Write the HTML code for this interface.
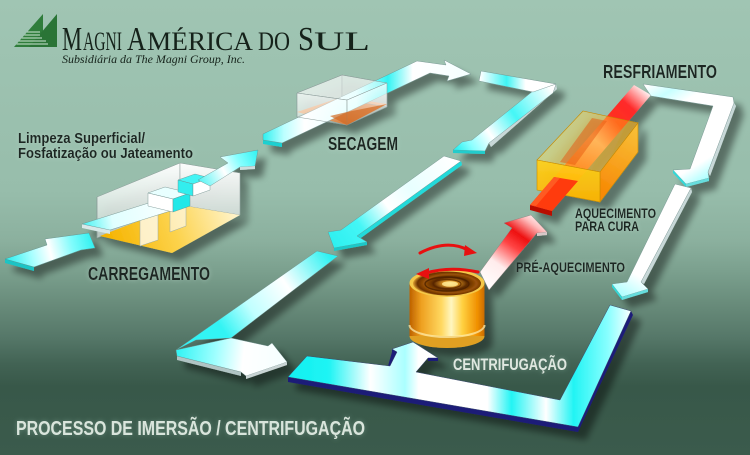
<!DOCTYPE html>
<html><head><meta charset="utf-8"><style>
html,body{margin:0;padding:0;width:750px;height:455px;overflow:hidden;background:#3a5a4b}
svg{display:block}
.lb{font-family:"Liberation Sans",Arial,sans-serif;font-weight:bold;fill:#1b2620}
</style></head><body>
<svg width="750" height="455" viewBox="0 0 750 455" xmlns="http://www.w3.org/2000/svg">
<defs>
 <linearGradient id="bg" x1="0" y1="0" x2="0" y2="455" gradientUnits="userSpaceOnUse">
  <stop offset="0" stop-color="#a0c5b3"/>
  <stop offset="0.42" stop-color="#97bdab"/>
  <stop offset="0.53" stop-color="#8bb09e"/>
  <stop offset="0.6" stop-color="#7a9f8d"/>
  <stop offset="0.67" stop-color="#688b7a"/>
  <stop offset="0.74" stop-color="#567869"/>
  <stop offset="0.8" stop-color="#426354"/>
  <stop offset="0.85" stop-color="#385849"/>
  <stop offset="1" stop-color="#3b5b4c"/>
 </linearGradient>
 <filter id="sh" x="-10%" y="-10%" width="130%" height="130%">
  <feGaussianBlur in="SourceAlpha" stdDeviation="3.5"/>
  <feOffset dx="8" dy="8" result="o"/>
  <feComponentTransfer in="o" result="s"><feFuncA type="linear" slope="0.42"/></feComponentTransfer>
  <feMerge><feMergeNode in="s"/><feMergeNode in="SourceGraphic"/></feMerge>
 </filter>
 <filter id="glowL" x="-10%" y="-60%" width="120%" height="220%">
  <feGaussianBlur in="SourceAlpha" stdDeviation="2.5" result="b"/>
  <feFlood flood-color="#6f9383" flood-opacity="0.8"/>
  <feComposite in2="b" operator="in" result="g"/>
  <feMerge><feMergeNode in="g"/><feMergeNode in="SourceGraphic"/></feMerge>
 </filter>
 <filter id="glowD" x="-10%" y="-60%" width="120%" height="220%">
  <feGaussianBlur in="SourceAlpha" stdDeviation="2" result="b"/>
  <feFlood flood-color="#c4ddd1" flood-opacity="0.5"/>
  <feComposite in2="b" operator="in" result="g"/>
  <feMerge><feMergeNode in="g"/><feMergeNode in="SourceGraphic"/></feMerge>
 </filter>
 <linearGradient id="entryG" x1="5" y1="262" x2="95" y2="240" gradientUnits="userSpaceOnUse">
  <stop offset="0" stop-color="#22eeee"/><stop offset="0.3" stop-color="#a8ffff"/><stop offset="0.5" stop-color="#ffffff"/><stop offset="0.75" stop-color="#7ffcfc"/><stop offset="1" stop-color="#2af0f0"/>
 </linearGradient>
 <linearGradient id="bar1G" x1="82" y1="226" x2="183" y2="205" gradientUnits="userSpaceOnUse">
  <stop offset="0" stop-color="#40f4f4"/><stop offset="0.3" stop-color="#e0ffff"/><stop offset="1" stop-color="#ffffff"/>
 </linearGradient>
 <linearGradient id="outG" x1="195" y1="185" x2="258" y2="152" gradientUnits="userSpaceOnUse">
  <stop offset="0" stop-color="#33f2f2"/><stop offset="0.45" stop-color="#ffffff"/><stop offset="0.7" stop-color="#88ffff"/><stop offset="1" stop-color="#33f2f2"/>
 </linearGradient>
 <linearGradient id="floorG" x1="110" y1="245" x2="230" y2="200" gradientUnits="userSpaceOnUse">
  <stop offset="0" stop-color="#f6b400"/><stop offset="0.5" stop-color="#fcd24a"/><stop offset="1" stop-color="#fff3c8"/>
 </linearGradient>
 <linearGradient id="wallG" x1="0" y1="165" x2="0" y2="240" gradientUnits="userSpaceOnUse">
  <stop offset="0" stop-color="#ffffff" stop-opacity="0.95"/><stop offset="1" stop-color="#ffffff" stop-opacity="0.35"/>
 </linearGradient>
 <linearGradient id="secG" x1="263" y1="0" x2="471" y2="0" gradientUnits="userSpaceOnUse">
  <stop offset="0" stop-color="#2ef0f0"/><stop offset="0.1" stop-color="#bbffff"/><stop offset="0.2" stop-color="#ffffff"/><stop offset="0.45" stop-color="#d8ffff"/><stop offset="0.6" stop-color="#33f4f4"/><stop offset="0.72" stop-color="#ffffff"/><stop offset="1" stop-color="#f4ffff"/>
 </linearGradient>
 <linearGradient id="orG" x1="300" y1="112" x2="387" y2="118" gradientUnits="userSpaceOnUse">
  <stop offset="0" stop-color="#e08a40"/><stop offset="0.5" stop-color="#d2691e"/><stop offset="1" stop-color="#e49a60"/>
 </linearGradient>
 <linearGradient id="boxW" x1="0" y1="80" x2="0" y2="125" gradientUnits="userSpaceOnUse">
  <stop offset="0" stop-color="#ffffff" stop-opacity="0.85"/><stop offset="1" stop-color="#ffffff" stop-opacity="0.15"/>
 </linearGradient>
 <linearGradient id="b1G" x1="480" y1="0" x2="556" y2="0" gradientUnits="userSpaceOnUse">
  <stop offset="0" stop-color="#ffffff"/><stop offset="0.35" stop-color="#3ff4f4"/><stop offset="0.6" stop-color="#ffffff"/><stop offset="1" stop-color="#ffffff"/>
 </linearGradient>
 <linearGradient id="b2G" x1="550" y1="88" x2="458" y2="150" gradientUnits="userSpaceOnUse">
  <stop offset="0" stop-color="#ffffff"/><stop offset="0.4" stop-color="#44f6f6"/><stop offset="0.68" stop-color="#ffffff"/><stop offset="0.88" stop-color="#88ffff"/><stop offset="1" stop-color="#33f2f2"/>
 </linearGradient>
 <linearGradient id="diagG" x1="452" y1="158" x2="335" y2="246" gradientUnits="userSpaceOnUse">
  <stop offset="0" stop-color="#ffffff"/><stop offset="0.35" stop-color="#e8ffff"/><stop offset="0.55" stop-color="#ffffff"/><stop offset="0.78" stop-color="#44f6f6"/><stop offset="1" stop-color="#2ef0f0"/>
 </linearGradient>
 <linearGradient id="L1G" x1="327" y1="253" x2="185" y2="350" gradientUnits="userSpaceOnUse">
  <stop offset="0" stop-color="#2ff2f2"/><stop offset="0.3" stop-color="#ffffff"/><stop offset="0.55" stop-color="#c0ffff"/><stop offset="0.75" stop-color="#33f4f4"/><stop offset="1" stop-color="#33f4f4"/>
 </linearGradient>
 <linearGradient id="L2G" x1="177" y1="353" x2="287" y2="365" gradientUnits="userSpaceOnUse">
  <stop offset="0" stop-color="#33f4f4"/><stop offset="0.35" stop-color="#a0ffff"/><stop offset="0.6" stop-color="#ffffff"/><stop offset="1" stop-color="#f4ffff"/>
 </linearGradient>
 <linearGradient id="uG" x1="288" y1="0" x2="632" y2="0" gradientUnits="userSpaceOnUse">
  <stop offset="0" stop-color="#10f0f0"/><stop offset="0.12" stop-color="#20f4f4"/><stop offset="0.24" stop-color="#ffffff"/><stop offset="0.34" stop-color="#aaffff"/><stop offset="0.38" stop-color="#ffffff"/><stop offset="0.58" stop-color="#ffffff"/><stop offset="0.65" stop-color="#22f4f4"/><stop offset="0.75" stop-color="#ffffff"/><stop offset="0.83" stop-color="#22f4f4"/><stop offset="0.93" stop-color="#88ffff"/><stop offset="1" stop-color="#ffffff"/>
 </linearGradient>
 <linearGradient id="preG" x1="488" y1="290" x2="540" y2="216" gradientUnits="userSpaceOnUse">
  <stop offset="0" stop-color="#ffffff"/><stop offset="0.3" stop-color="#ffecec"/><stop offset="0.55" stop-color="#ff4444"/><stop offset="0.7" stop-color="#ee1010"/><stop offset="0.88" stop-color="#ffbcbc"/><stop offset="1" stop-color="#ffffff"/>
 </linearGradient>
 <linearGradient id="redG" x1="540" y1="208" x2="645" y2="88" gradientUnits="userSpaceOnUse">
  <stop offset="0" stop-color="#ff1e00"/><stop offset="0.3" stop-color="#ff5a10"/><stop offset="0.55" stop-color="#ffb080"/><stop offset="0.72" stop-color="#ff3020"/><stop offset="0.85" stop-color="#ff2a2a"/><stop offset="1" stop-color="#ffffff"/>
 </linearGradient>
 <linearGradient id="hFront" x1="0" y1="160" x2="0" y2="202" gradientUnits="userSpaceOnUse">
  <stop offset="0" stop-color="#ffd21a"/><stop offset="1" stop-color="#ffb300"/>
 </linearGradient>
 <linearGradient id="hRight" x1="600" y1="190" x2="638" y2="130" gradientUnits="userSpaceOnUse">
  <stop offset="0" stop-color="#ff8a00"/><stop offset="1" stop-color="#ffc030"/>
 </linearGradient>
 <linearGradient id="hTop" x1="560" y1="130" x2="620" y2="160" gradientUnits="userSpaceOnUse">
  <stop offset="0" stop-color="#ffe060"/><stop offset="1" stop-color="#ffa000"/>
 </linearGradient>
 <linearGradient id="resG" x1="643" y1="88" x2="700" y2="182" gradientUnits="userSpaceOnUse">
  <stop offset="0" stop-color="#ffffff"/><stop offset="0.15" stop-color="#c8ffff"/><stop offset="0.3" stop-color="#ffffff"/><stop offset="0.85" stop-color="#ffffff"/><stop offset="1" stop-color="#b0ffff"/>
 </linearGradient>
 <linearGradient id="rlG" x1="683" y1="186" x2="620" y2="294" gradientUnits="userSpaceOnUse">
  <stop offset="0" stop-color="#ffffff"/><stop offset="0.8" stop-color="#ffffff"/><stop offset="1" stop-color="#b0ffff"/>
 </linearGradient>
 <linearGradient id="canG" x1="410" y1="0" x2="485" y2="0" gradientUnits="userSpaceOnUse">
  <stop offset="0" stop-color="#c06400"/><stop offset="0.15" stop-color="#eea020"/><stop offset="0.42" stop-color="#ffd860"/><stop offset="0.55" stop-color="#fff6c0"/><stop offset="0.7" stop-color="#ffd040"/><stop offset="0.9" stop-color="#f09000"/><stop offset="1" stop-color="#c86800"/>
 </linearGradient>
 <radialGradient id="canTop" cx="0.55" cy="0.5" r="0.55">
  <stop offset="0" stop-color="#fff0a0"/><stop offset="0.2" stop-color="#d89020"/><stop offset="0.45" stop-color="#5a2800"/><stop offset="0.7" stop-color="#9a5208"/><stop offset="0.88" stop-color="#6a3000"/><stop offset="1" stop-color="#e0a030"/>
 </radialGradient>
 <clipPath id="logoClip"><polygon points="14,47 43,14 43,47"/><polygon points="29,47 57,14 57,47"/></clipPath>
</defs>

<rect x="0" y="0" width="750" height="455" fill="url(#bg)"/>

<!-- LOGO -->
<g>
 <polygon points="14,47 43,14 43,47" fill="#2f7d3b"/>
 <polygon points="29,47 57,14 57,47" fill="#2a7436"/>
 <g clip-path="url(#logoClip)" stroke="#cfe6d5" stroke-width="0.9">
  <line x1="10" y1="32" x2="40" y2="32"/><line x1="10" y1="35" x2="40" y2="35"/><line x1="10" y1="38" x2="42" y2="38"/><line x1="10" y1="41" x2="46" y2="41"/><line x1="10" y1="44" x2="48" y2="44"/>
 </g>
 <g fill="#15221a" font-family="'Liberation Serif','Times New Roman',serif">
  <text x="62" y="50" font-size="34" textLength="20" lengthAdjust="spacingAndGlyphs">M</text>
  <text x="83" y="50" font-size="26" textLength="39" lengthAdjust="spacingAndGlyphs">AGNI</text>
  <text x="127" y="50" font-size="34" textLength="19" lengthAdjust="spacingAndGlyphs">A</text>
  <text x="147" y="50" font-size="26" textLength="106" lengthAdjust="spacingAndGlyphs">MÉRICA</text>
  <text x="258" y="50" font-size="26" textLength="32" lengthAdjust="spacingAndGlyphs">DO</text>
  <text x="298" y="50" font-size="34" textLength="16" lengthAdjust="spacingAndGlyphs">S</text>
  <text x="314" y="50" font-size="26" textLength="56" lengthAdjust="spacingAndGlyphs">UL</text>
  <text x="62" y="63" font-size="11.5" font-style="italic" textLength="183" lengthAdjust="spacingAndGlyphs">Subsidiária da The Magni Group, Inc.</text>
 </g>
</g>

<!-- shapes with shadows -->
<g filter="url(#sh)">
 <!-- entry arrow -->
 <polygon points="5,259 34,267 34,271 5,263" fill="#1ac4c4"/>
 <polygon points="5,259 47,245 45,239 89,233 95,248 81,250 34,267" fill="url(#entryG)" stroke="#5a8a86" stroke-width="0.4"/>

 <!-- CARREGAMENTO box -->
 <polygon points="97,197 180,163 180,205 97,238" fill="url(#wallG)" stroke="#8a9a98" stroke-width="0.5"/>
 <polygon points="180,163 240,173 240,215 180,205" fill="url(#wallG)" stroke="#8a9a98" stroke-width="0.5"/>
 <polygon points="100,236 172,253 240,215 180,205" fill="url(#floorG)"/>
 <polygon points="140,212 158,206 158,240 140,246" fill="#ffffff" fill-opacity="0.75" stroke="#9aa" stroke-width="0.5"/>
 <polygon points="170,203 186,198 186,226 170,232" fill="#ffffff" fill-opacity="0.6" stroke="#9aa" stroke-width="0.5"/>
 <line x1="97" y1="197" x2="97" y2="236" stroke="#8a9a98" stroke-width="0.6"/>
 <!-- conveyor -->
 <polygon points="82,224 110,230 110,234 82,228" fill="#d8e8e8"/>
 <polygon points="82,224 155,201 183,207 110,230" fill="url(#bar1G)" stroke="#6a8a88" stroke-width="0.4"/>
 <polygon points="148,193 165,187 190,193 173,199" fill="#e8ffff" stroke="#6a8a88" stroke-width="0.4"/>
 <polygon points="148,193 173,199 173,212 148,206" fill="#ffffff" stroke="#6a8a88" stroke-width="0.4"/>
 <polygon points="173,199 190,193 190,206 173,212" fill="#22e8e8" stroke="#6a8a88" stroke-width="0.4"/>
 <polygon points="178,180 195,174 210,178 193,184" fill="#44f4f4" stroke="#6a8a88" stroke-width="0.4"/>
 <polygon points="178,180 193,184 193,196 178,192" fill="#33eeee" stroke="#6a8a88" stroke-width="0.4"/>
 <polygon points="193,184 210,178 210,190 193,196" fill="#ffffff" stroke="#6a8a88" stroke-width="0.4"/>
 <polygon points="198,180 228,163 220,157 258,150 255,166 240,167 210,186" fill="url(#outG)" stroke="#6a8a88" stroke-width="0.4"/>
 <polygon points="240,167 255,166 255,169 240,170" fill="#ccdddd"/>

 <!-- SECAGEM -->
 <polygon points="297,112 342,97 387,104 347,125" fill="url(#orG)"/>
 <polygon points="297,93 342,75 342,99 297,117" fill="#ffffff" fill-opacity="0.35" stroke="#8a9a98" stroke-width="0.5"/>
 <polygon points="342,75 387,83 387,107 342,99" fill="#ffffff" fill-opacity="0.3" stroke="#8a9a98" stroke-width="0.5"/>
 <polygon points="263,140 282,143 282,147 263,144" fill="#1cd0d0"/>
 <polygon points="263,134 417,61 446,65 444,60 471,74 447,81 449,76 430,73 282,143 263,140" fill="url(#secG)" stroke="#6a8a88" stroke-width="0.4"/>
 <polygon points="297,93 342,75 387,83 347,100" fill="#ffffff" fill-opacity="0.45" stroke="#8a9a98" stroke-width="0.5"/>
 <polygon points="297,93 347,100 347,125 297,117" fill="url(#boxW)" stroke="#8a9a98" stroke-width="0.5"/>
 <polygon points="347,100 387,83 387,107 347,125" fill="url(#boxW)" stroke="#8a9a98" stroke-width="0.5"/>
 <polygon points="330,116 347,112 387,104 347,125" fill="#d26a22" fill-opacity="0.7"/>

 <!-- top-right bend -->
 <polygon points="556,84 557,89 491,147 489,143" fill="#c8d8d8"/>
 <polygon points="533,91 556,84 553,93 489,143 485,151 453,150 462,142 472,140" fill="url(#b2G)" stroke="#6a8a88" stroke-width="0.4"/>
 <polygon points="481,71 556,84 533,92 479,81" fill="url(#b1G)" stroke="#6a8a88" stroke-width="0.4"/>
 <polygon points="453,150 485,151 485,154 453,153" fill="#22cccc"/>

 <!-- long diagonal -->
 <polygon points="461,161 462,165 358,240 357,236" fill="#22dada"/>
 <polygon points="444,156 461,161 357,236 367,242 334,248 328,232 341,230" fill="url(#diagG)" stroke="#6a8a88" stroke-width="0.4"/>
 <polygon points="334,248 367,242 367,245 334,251" fill="#1cc8c8"/>

 <!-- big L -->
 <polygon points="317,251 338,256 231,338 196,340 176,350" fill="url(#L1G)" stroke="#6a8a88" stroke-width="0.4"/>
 <polygon points="177,356 241,372 241,376 177,360" fill="#b0c4c4"/>
 <polygon points="176,350 231,338 268,346 272,343 287,362 246,376 241,372 177,356" fill="url(#L2G)" stroke="#6a8a88" stroke-width="0.4"/>
 <polygon points="246,376 287,362 287,365 246,379" fill="#c8d4d4"/>

 <!-- bottom U -->
 <polygon points="288,377 578,427 578,432 288,382" fill="#1c1c78"/>
 <polygon points="631,311 578,427 578,432 633,315" fill="#1c1c78"/>
 <polygon points="390,366 397,352 392,349 392,352 388,366" fill="#1c1c78"/>
 <polygon points="307,356 390,366 397,352 392,349 413,342 438,358 428,358 416,372 560,400 610,305 631,311 578,427 288,377" fill="url(#uG)" stroke="#3a4a70" stroke-width="0.5"/>
 <polygon points="428,358 438,358 438,361 428,361" fill="#1c1c78"/>

 <!-- pre-heating arrow -->
 <polygon points="480,272 512,228 504,223 531,215 547,232 537,233 489,290" fill="url(#preG)" stroke="#8a7a7a" stroke-width="0.4"/>
 <polygon points="537,233 547,232 547,235 537,236" fill="#d8c8c8"/>

 <!-- heating: red bar -->
 <polygon points="530,205 552,211 552,216 530,210" fill="#b81000"/>
 <polygon points="530,205 634,85 651,95 552,211" fill="url(#redG)"/>
 <!-- heating box -->
 <polygon points="537,160 583,111 638,123 600,172" fill="url(#hTop)" fill-opacity="0.45" stroke="#c88a00" stroke-width="0.6"/>
 <polygon points="592,118 607,121 575,165 560,162" fill="#e85a10" fill-opacity="0.5"/>
 <polygon points="600,172 638,123 638,152 600,202" fill="url(#hRight)" fill-opacity="0.93" stroke="#c88a00" stroke-width="0.6"/>
 <polygon points="537,160 600,172 600,202 537,190" fill="url(#hFront)" fill-opacity="0.93" stroke="#c88a00" stroke-width="0.6"/>
 <polygon points="530,205 554,177 578,181 552,211" fill="#ff3a10"/>
 <polygon points="530,205 554,177 560,178 536,206" fill="#ff5a20"/>

 <!-- RESFRIAMENTO arrow -->
 <polygon points="734,103 736,106 710,176 708,172" fill="#c8d8d8"/>
 <polygon points="643,84 733,97 734,103 708,172 709,178 686,184 673,170 690,169 713,106 651,96" fill="url(#resG)" stroke="#6a8a88" stroke-width="0.4"/>
 <polygon points="673,170 686,184 686,187 673,173" fill="#33d8d8"/>
 <polygon points="686,184 709,178 709,181 686,187" fill="#66dddd"/>

 <!-- right lower arrow -->
 <polygon points="691,188 692,192 644,284 641,282" fill="#c8d8d8"/>
 <polygon points="675,184 691,188 641,282 648,289 622,297 612,284 627,282" fill="url(#rlG)" stroke="#6a8a88" stroke-width="0.4"/>
 <polygon points="612,284 622,297 622,300 612,287" fill="#33d8d8"/>
 <polygon points="622,297 648,289 648,292 622,300" fill="#66dddd"/>

 <!-- can -->
 <ellipse cx="447" cy="336" rx="37.5" ry="12" fill="#e0a020"/>
 <rect x="409.5" y="283" width="75" height="53" fill="url(#canG)"/>
 <path d="M409.5,325 A37.5,12 0 0 0 484.5,325" fill="none" stroke="#fff0b0" stroke-width="2" opacity="0.7"/>
 <ellipse cx="447" cy="283" rx="37.5" ry="14" fill="#f4c848"/>
 <ellipse cx="447" cy="283.5" rx="34" ry="12" fill="url(#canTop)"/>
 <ellipse cx="447" cy="284" rx="22" ry="7" fill="none" stroke="#4a2000" stroke-width="1.4" opacity="0.8"/>
 <ellipse cx="447" cy="284" rx="14" ry="4.5" fill="none" stroke="#5a2800" stroke-width="1.2" opacity="0.8"/>
 <ellipse cx="450" cy="284" rx="8" ry="2.8" fill="#ffe890" opacity="0.85"/>
</g>

<!-- red rotation arrows -->
<g fill="none" stroke="#e81010" stroke-width="3" stroke-linecap="round">
 <path d="M420,253 Q447,239 468,250"/>
 <path d="M478,272 Q450,266 426,273"/>
</g>
<polygon points="465,245 477,253 464,256" fill="#e81010"/>
<polygon points="429,268 416,274 429,279" fill="#e81010"/>

<!-- labels -->
<g filter="url(#glowD)">
 <text class="lb" x="18" y="143" font-size="14.5" textLength="127" lengthAdjust="spacingAndGlyphs">Limpeza Superficial/</text>
 <text class="lb" x="18" y="158" font-size="14.5" textLength="175" lengthAdjust="spacingAndGlyphs">Fosfatização ou Jateamento</text>
 <text class="lb" x="88" y="280" font-size="18.5" textLength="122" lengthAdjust="spacingAndGlyphs">CARREGAMENTO</text>
 <text class="lb" x="328" y="150" font-size="18.5" textLength="70" lengthAdjust="spacingAndGlyphs">SECAGEM</text>
 <text class="lb" x="603" y="78" font-size="18.5" textLength="114" lengthAdjust="spacingAndGlyphs">RESFRIAMENTO</text>
 <text class="lb" x="575" y="218" font-size="14" textLength="81" lengthAdjust="spacingAndGlyphs">AQUECIMENTO</text>
 <text class="lb" x="575" y="231" font-size="14" textLength="64" lengthAdjust="spacingAndGlyphs">PARA CURA</text>
 <text class="lb" x="516" y="272" font-size="14" textLength="109" lengthAdjust="spacingAndGlyphs">PRÉ-AQUECIMENTO</text>
</g>
<g filter="url(#glowL)">
 <text class="lb" x="453" y="370" font-size="17" style="fill:#dfe8e0" textLength="114" lengthAdjust="spacingAndGlyphs">CENTRIFUGAÇÃO</text>
 <text class="lb" x="16" y="435" font-size="20.5" style="fill:#d9e5dc" textLength="349" lengthAdjust="spacingAndGlyphs">PROCESSO DE IMERSÃO / CENTRIFUGAÇÃO</text>
</g>
</svg>
</body></html>
